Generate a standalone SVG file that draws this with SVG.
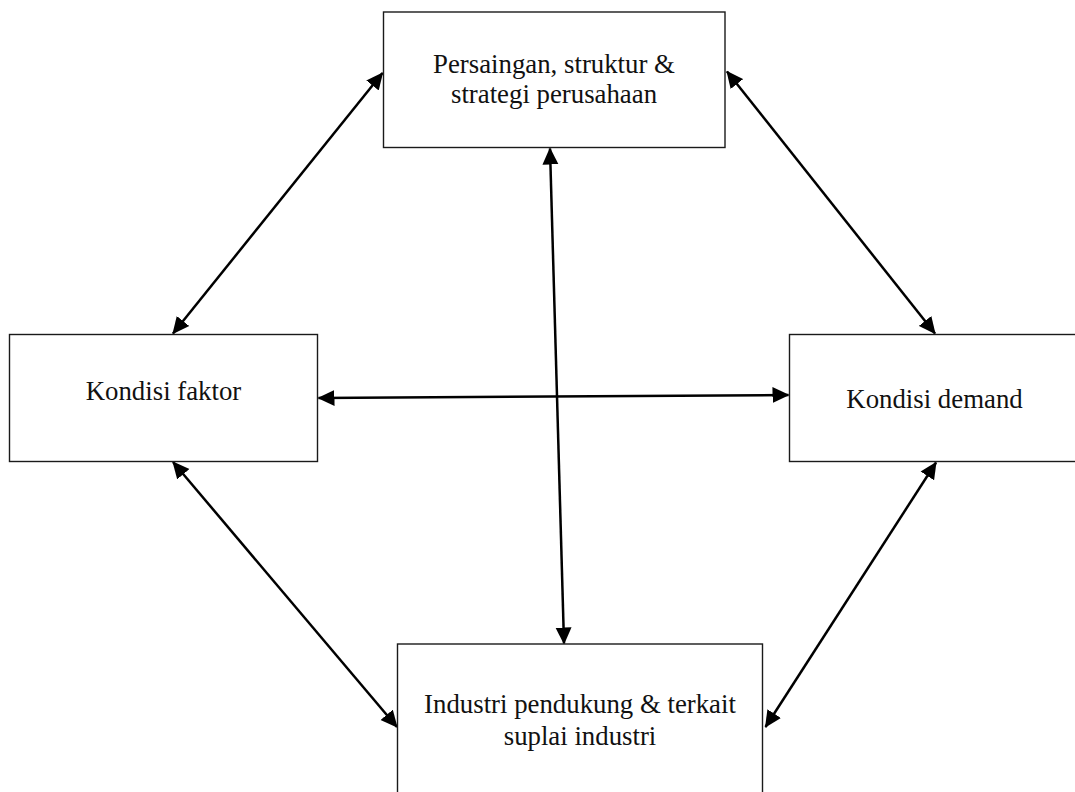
<svg xmlns="http://www.w3.org/2000/svg" width="1075" height="792" viewBox="0 0 1075 792">
  <style>
    .box { fill: #ffffff; stroke: #1a1a1a; stroke-width: 1.4; }
    .label { font-family: "Liberation Serif", "Times New Roman", serif; font-size: 26.8px; fill: #111111; text-anchor: middle; }
    .link { stroke: #000000; stroke-width: 2.5; fill: none; marker-start: url(#head); marker-end: url(#head); }
  </style>
  <defs>
    <marker id="head" viewBox="0 0 17 17" refX="16" refY="8.5" markerWidth="17" markerHeight="17" markerUnits="userSpaceOnUse" orient="auto-start-reverse">
      <path d="M0,0.5 L17,8.5 L0,16.5 Z" fill="#000000"/>
    </marker>
  </defs>
  <rect width="1075" height="792" fill="#ffffff"/>

  <g id="connectors">
    <line class="link" x1="173" y1="333.5" x2="382.5" y2="73"/>
    <line class="link" x1="727" y1="71.5" x2="935" y2="333.5"/>
    <line class="link" x1="318.5" y1="398" x2="788.5" y2="395"/>
    <line class="link" x1="550" y1="148.5" x2="564" y2="643.5"/>
    <line class="link" x1="173" y1="462" x2="397" y2="727"/>
    <line class="link" x1="936" y1="462.5" x2="765.5" y2="727"/>
  </g>

  <g id="node-persaingan">
    <rect class="box" x="383.5" y="12" width="341.5" height="135.5"/>
    <text class="label" x="554" y="73">Persaingan, struktur &amp;</text>
    <text class="label" x="554" y="103">strategi perusahaan</text>
  </g>

  <g id="node-faktor">
    <rect class="box" x="9.5" y="334.5" width="308" height="127"/>
    <text class="label" x="163.5" y="400">Kondisi faktor</text>
  </g>

  <g id="node-demand">
    <rect class="box" x="789.5" y="334.5" width="290" height="127"/>
    <text class="label" x="934.5" y="408">Kondisi demand</text>
  </g>

  <g id="node-industri">
    <rect class="box" x="397.5" y="644" width="365" height="160"/>
    <text class="label" x="580" y="713">Industri pendukung &amp; terkait</text>
    <text class="label" x="580" y="745">suplai industri</text>
  </g>
</svg>
